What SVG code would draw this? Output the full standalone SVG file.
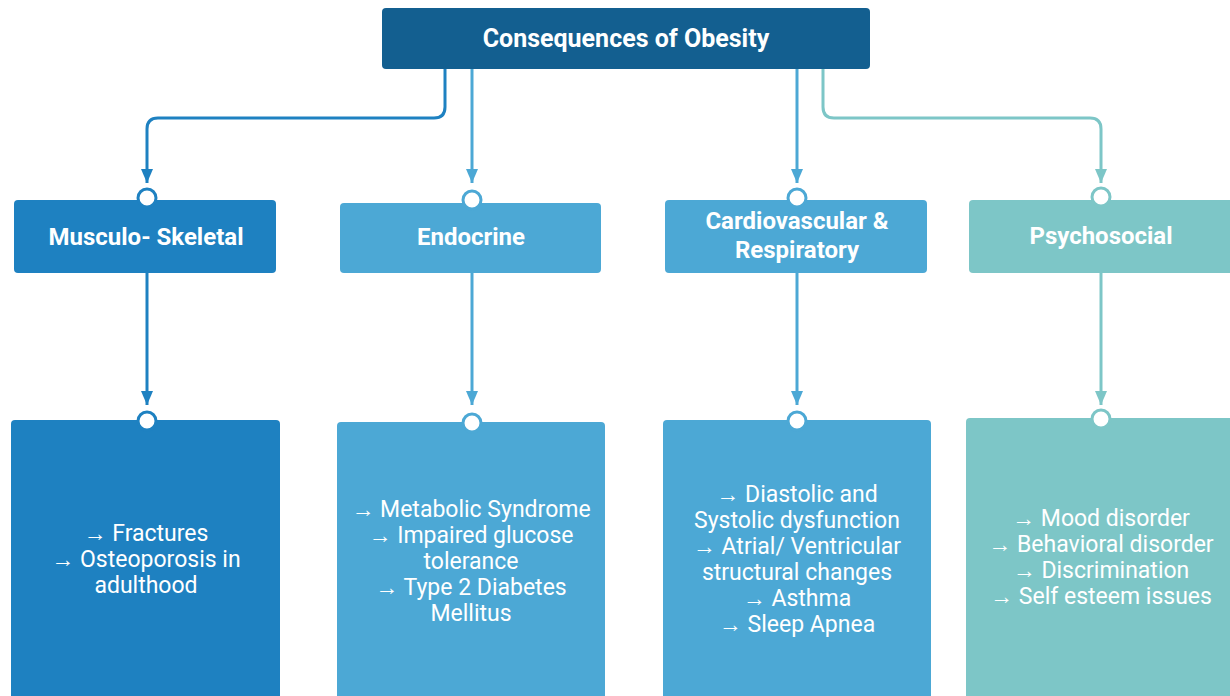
<svg xmlns="http://www.w3.org/2000/svg" width="1230" height="696" viewBox="0 0 1230 696">
<defs>
<style>
.h{font-family:Roboto,"Liberation Sans",sans-serif;font-weight:bold;fill:#fff;text-anchor:middle}
.t{font-family:Roboto,"Liberation Sans",sans-serif;font-size:23px;fill:#fff;text-anchor:middle}
.c{fill:none;stroke-width:3}
.dot{fill:#fff;stroke-width:3}
</style>
<marker id="a1" markerWidth="12" markerHeight="14" refX="6" refY="14" markerUnits="userSpaceOnUse" viewBox="0 0 12 14"><path d="M0,0 L12,0 L6,14 z" fill="#1e81c1"/></marker>
<marker id="a2" markerWidth="12" markerHeight="14" refX="6" refY="14" markerUnits="userSpaceOnUse" viewBox="0 0 12 14"><path d="M0,0 L12,0 L6,14 z" fill="#4ca8d5"/></marker>
<marker id="a3" markerWidth="12" markerHeight="14" refX="6" refY="14" markerUnits="userSpaceOnUse" viewBox="0 0 12 14"><path d="M0,0 L12,0 L6,14 z" fill="#7dc6c7"/></marker>
</defs>
<rect width="1230" height="696" fill="#fff"/>
<g id="connectors">
<path class="c" stroke="#1e81c1" d="M445,69 V107 Q445,118 434,118 H158 Q147,118 147,129 V183" marker-end="url(#a1)"/>
<path class="c" stroke="#4ca8d5" d="M472,69 V183" marker-end="url(#a2)"/>
<path class="c" stroke="#4ca8d5" d="M797,69 V183" marker-end="url(#a2)"/>
<path class="c" stroke="#7dc6c7" d="M823,69 V107 Q823,118 834,118 H1090 Q1101,118 1101,129 V183" marker-end="url(#a3)"/>
<path class="c" stroke="#1e81c1" d="M147,273 V405" marker-end="url(#a1)"/>
<path class="c" stroke="#4ca8d5" d="M472,273 V405" marker-end="url(#a2)"/>
<path class="c" stroke="#4ca8d5" d="M797,273 V405" marker-end="url(#a2)"/>
<path class="c" stroke="#7dc6c7" d="M1101,273 V405" marker-end="url(#a3)"/>
</g>
<g id="root">
<rect x="382" y="8" width="488" height="61" rx="4" fill="#135f90"/>
<text class="h" x="626" y="47" font-size="25">Consequences of Obesity</text>
</g>
<g id="musculo">
<rect x="14" y="200" width="262" height="73" rx="4" fill="#1e81c1"/>
<circle class="dot" cx="147" cy="198" r="9" stroke="#1e81c1"/>
<text class="h" x="146" y="245" font-size="24">Musculo- Skeletal</text>
</g>
<g id="endocrine">
<rect x="340" y="203" width="261" height="70" rx="4" fill="#4ca8d5"/>
<circle class="dot" cx="472" cy="200" r="9" stroke="#4ca8d5"/>
<text class="h" x="471" y="245" font-size="24">Endocrine</text>
</g>
<g id="cardio">
<rect x="665" y="200" width="262" height="73" rx="4" fill="#4ca8d5"/>
<circle class="dot" cx="797" cy="198" r="9" stroke="#4ca8d5"/>
<text class="h" x="797" y="229" font-size="24">Cardiovascular &amp;</text>
<text class="h" x="797" y="258" font-size="24">Respiratory</text>
</g>
<g id="psycho">
<rect x="969" y="200" width="265" height="73" rx="4" fill="#7dc6c7"/>
<circle class="dot" cx="1101" cy="197" r="9" stroke="#7dc6c7"/>
<text class="h" x="1101" y="244" font-size="24">Psychosocial</text>
</g>
<g id="musculo-detail">
<rect x="11" y="420" width="269" height="290" rx="4" fill="#1e81c1"/>
<circle class="dot" cx="147" cy="421" r="9" stroke="#1e81c1"/>
<text class="t" x="146" y="541">→ Fractures</text>
<text class="t" x="146" y="567">→ Osteoporosis in</text>
<text class="t" x="146" y="593">adulthood</text>
</g>
<g id="endocrine-detail">
<rect x="337" y="422" width="268" height="290" rx="4" fill="#4ca8d5"/>
<circle class="dot" cx="472" cy="423" r="9" stroke="#4ca8d5"/>
<text class="t" x="471" y="517">→ Metabolic Syndrome</text>
<text class="t" x="471" y="543">→ Impaired glucose</text>
<text class="t" x="471" y="569">tolerance</text>
<text class="t" x="471" y="595">→ Type 2 Diabetes</text>
<text class="t" x="471" y="621">Mellitus</text>
</g>
<g id="cardio-detail">
<rect x="663" y="420" width="268" height="290" rx="4" fill="#4ca8d5"/>
<circle class="dot" cx="797" cy="421" r="9" stroke="#4ca8d5"/>
<text class="t" x="797" y="502">→ Diastolic and</text>
<text class="t" x="797" y="528">Systolic dysfunction</text>
<text class="t" x="797" y="554">→ Atrial/ Ventricular</text>
<text class="t" x="797" y="580">structural changes</text>
<text class="t" x="797" y="606">→ Asthma</text>
<text class="t" x="797" y="632">→ Sleep Apnea</text>
</g>
<g id="psycho-detail">
<rect x="966" y="418" width="268" height="290" rx="4" fill="#7dc6c7"/>
<circle class="dot" cx="1101" cy="419" r="9" stroke="#7dc6c7"/>
<text class="t" x="1101" y="526">→ Mood disorder</text>
<text class="t" x="1101" y="552">→ Behavioral disorder</text>
<text class="t" x="1101" y="578">→ Discrimination</text>
<text class="t" x="1101" y="604">→ Self esteem issues</text>
</g>
</svg>
